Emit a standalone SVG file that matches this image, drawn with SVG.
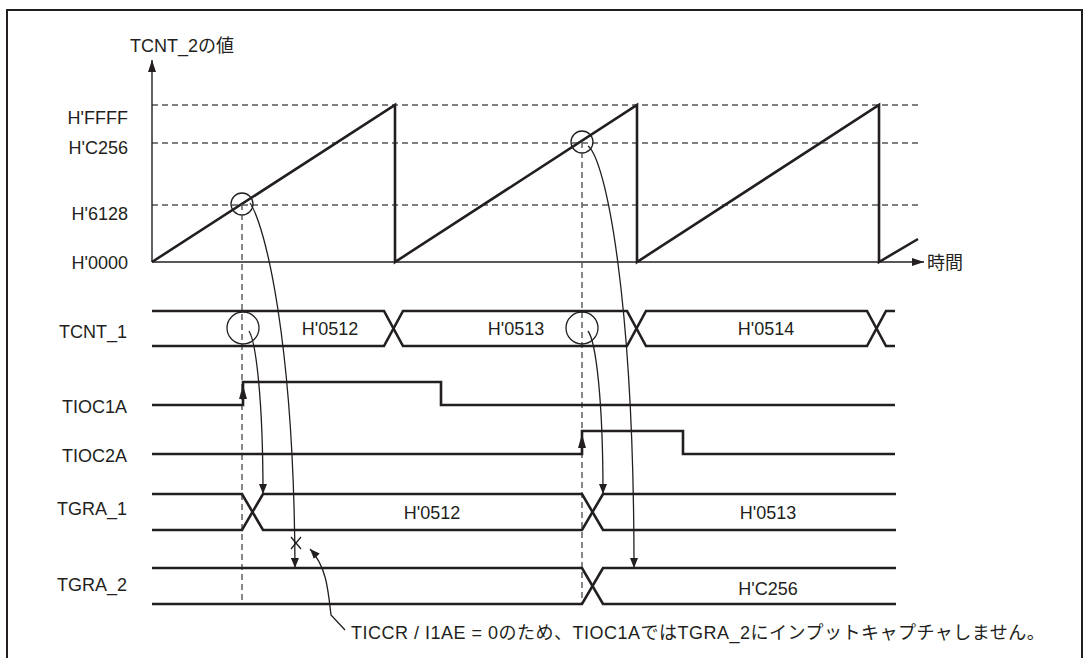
<svg xmlns="http://www.w3.org/2000/svg" width="1088" height="658" viewBox="0 0 1088 658">
<style>
text{font-family:"Liberation Sans","Noto Sans CJK JP",Arial,sans-serif;font-size:18px;fill:#231f20}
.lbl{text-anchor:end}
.mid{text-anchor:middle}
.thick{fill:none;stroke:#231f20;stroke-width:2.6;stroke-linejoin:miter}
.thin{fill:none;stroke:#231f20;stroke-width:1.4}
.dash{fill:none;stroke:#555;stroke-width:1.4;stroke-dasharray:6 4}
.conn{fill:none;stroke:#231f20;stroke-width:1.3}
.circ{fill:none;stroke:#231f20;stroke-width:1.3}
</style>
<defs>
<marker id="ah" markerWidth="10" markerHeight="8" refX="10" refY="4" orient="auto" markerUnits="userSpaceOnUse">
<path d="M0,0 L10,4 L0,8 Z" fill="#231f20"/>
</marker>
<marker id="axh" markerWidth="12" markerHeight="8" refX="12" refY="4" orient="auto" markerUnits="userSpaceOnUse">
<path d="M0,0 L12,4 L0,8 Z" fill="#231f20"/>
</marker>
</defs>
<rect width="1088" height="658" fill="#fff"/>
<path d="M7,658 V10 H1082 V658" fill="none" stroke="#231f20" stroke-width="2"/>

<g id="graph">
<text x="130" y="52">TCNT_2の値</text>
<line class="dash" x1="152" y1="105" x2="920" y2="105"/>
<line class="dash" x1="152" y1="143" x2="920" y2="143"/>
<line class="dash" x1="152" y1="205" x2="920" y2="205"/>
<line class="thin" x1="152" y1="262" x2="152" y2="60" marker-end="url(#axh)"/>
<line class="thin" x1="152" y1="262" x2="924" y2="262" marker-end="url(#axh)"/>
<text x="927" y="269">時間</text>
<text class="lbl" x="128" y="123.5">H'FFFF</text>
<text class="lbl" x="128" y="153.5">H'C256</text>
<text class="lbl" x="128" y="219.5">H'6128</text>
<text class="lbl" x="128" y="268.5">H'0000</text>
<path class="thick" d="M152,262 L395,105 V262 L637,105 V262 L879,105 V262 L918,239"/>
<circle class="circ" cx="242" cy="204" r="11"/>
<circle class="circ" cx="582" cy="142" r="11"/>
</g>

<g id="guides">
<line class="dash" x1="242" y1="204" x2="242" y2="604"/>
<line class="dash" x1="582" y1="142" x2="582" y2="604"/>
</g>

<g id="tcnt1">
<text class="lbl" x="127" y="338">TCNT_1</text>
<path class="thick" d="M152,311 H384 L403,346 H627 L646,311 H867 L886,346 H895"/>
<path class="thick" d="M152,346 H384 L403,311 H627 L646,346 H867 L886,311 H895"/>
<text class="mid" x="330" y="334.5">H'0512</text>
<text class="mid" x="516" y="334.5">H'0513</text>
<text class="mid" x="766" y="334.5">H'0514</text>
<circle class="circ" cx="243" cy="328" r="16"/>
<circle class="circ" cx="582" cy="328" r="16"/>
</g>

<g id="tioc1a">
<text class="lbl" x="127" y="412.5">TIOC1A</text>
<path class="thick" d="M152,405 H243 V382 H441 V405 H895"/>
<path d="M243,385 L239,399 L247,399 Z" fill="#231f20"/>
</g>

<g id="tioc2a">
<text class="lbl" x="127" y="461.5">TIOC2A</text>
<path class="thick" d="M152,454 H582 V431 H683 V454 H895"/>
<path d="M582,434 L578,448 L586,448 Z" fill="#231f20"/>
</g>

<g id="tgra1">
<text class="lbl" x="127" y="514.5">TGRA_1</text>
<path class="thick" d="M152,494 H242 L263,530 H582 L603,494 H896"/>
<path class="thick" d="M152,530 H242 L263,494 H582 L603,530 H896"/>
<text class="mid" x="432" y="518.5">H'0512</text>
<text class="mid" x="768" y="518.5">H'0513</text>
</g>

<g id="tgra2">
<text class="lbl" x="127" y="590.5">TGRA_2</text>
<path class="thick" d="M152,568 H582 L603,604 H896"/>
<path class="thick" d="M152,604 H582 L603,568 H896"/>
<text class="mid" x="768" y="594.5">H'C256</text>
</g>

<g id="connectors">
<path class="conn" d="M250,203 C265,225 294,340 295,568" marker-end="url(#ah)"/>
<path class="conn" d="M291,537 L301,549 M301,537 L291,549"/>
<path class="conn" d="M249,331 C256,342 263,400 263,494" marker-end="url(#ah)"/>
<path class="conn" d="M588,146 C606,160 634,300 634,568" marker-end="url(#ah)"/>
<path class="conn" d="M588,331 C596,342 603,400 603,494" marker-end="url(#ah)"/>
<path class="conn" d="M345,630 L331,615 C328,588 326,566 310,549" marker-end="url(#ah)"/>
</g>

<g id="note">
<text x="351" y="638.5" style="letter-spacing:0.5px">TICCR / I1AE = 0のため、TIOC1AではTGRA_2にインプットキャプチャしません。</text>
</g>
</svg>
